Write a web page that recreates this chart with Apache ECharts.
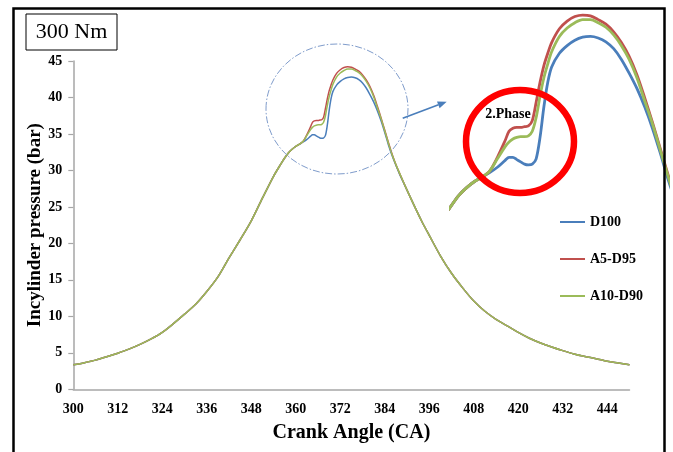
<!DOCTYPE html>
<html>
<head>
<meta charset="utf-8">
<script src="https://cdn.jsdelivr.net/npm/echarts@6/dist/echarts.min.js"></script>
<style>
html,body{margin:0;padding:0;background:#fff;}
#chart{width:673px;height:452px;}
</style>
</head>
<body>
<div id="chart"></div>
<script>
// ---- data ----
const crankAngle = [300,303,306,309,312,315,318,321,324,327,330,333,336,339,342,345,348,351,354,
  356,357,358,359,360,361,362,363,364,
  364.5,365,365.5,366,366.5,367,367.5,368,368.5,369,369.5,370,
  371,372,373,374,375,376,377,378,379,380,381,382,383,384,385,386,387,388,
  390,392,394,396,
  399,402,405,408,411,414,417,420,423,426,429,432,435,438,441,444,447,450];

const d100 = [3.35,3.65,4.0,4.45,4.95,5.5,6.15,6.9,7.8,9.0,10.3,11.65,13.4,15.4,18.0,20.5,23.1,26.2,29.2,
  30.9,31.7,32.4,32.9,33.3,33.6,33.9,34.25,34.7,
  34.9,34.9,34.75,34.6,34.45,34.4,34.45,34.8,36.2,38.2,39.8,40.8,
  41.7,42.2,42.55,42.75,42.8,42.7,42.45,42.0,41.3,40.4,39.4,38.2,36.8,35.2,33.5,32.0,30.7,29.5,
  27.3,25.1,23.0,21.1,
  18.3,15.9,13.9,12.1,10.7,9.6,8.7,7.8,7.0,6.35,5.8,5.3,4.85,4.5,4.2,3.85,3.6,3.35];

const a5d95 = [3.35,3.65,4.0,4.45,4.95,5.5,6.15,6.9,7.8,9.0,10.3,11.65,13.4,15.4,18.0,20.5,23.1,26.2,29.2,
  30.9,31.7,32.4,32.9,33.3,33.6,34.0,34.9,36.0,
  36.6,36.8,36.85,36.85,36.9,36.95,37.3,38.5,39.8,40.9,41.7,42.4,
  43.3,43.8,44.1,44.2,44.15,43.9,43.6,43.1,42.4,41.5,40.3,38.8,37.2,35.5,33.8,32.2,30.8,29.6,
  27.3,25.1,23.0,21.1,
  18.3,15.9,13.9,12.1,10.7,9.6,8.7,7.8,7.0,6.35,5.8,5.3,4.85,4.5,4.2,3.85,3.6,3.35];

const a10d90 = [3.35,3.65,4.0,4.45,4.95,5.5,6.15,6.9,7.8,9.0,10.3,11.65,13.4,15.4,18.0,20.5,23.1,26.2,29.2,
  30.9,31.7,32.4,32.9,33.3,33.6,34.0,34.8,35.6,
  35.9,36.1,36.2,36.25,36.25,36.3,36.6,37.5,38.9,40.1,41.0,41.8,
  42.8,43.35,43.7,43.9,43.9,43.7,43.4,42.9,42.2,41.3,40.1,38.6,37.1,35.4,33.7,32.1,30.8,29.6,
  27.3,25.1,23.0,21.1,
  18.3,15.9,13.9,12.1,10.7,9.6,8.7,7.8,7.0,6.35,5.8,5.3,4.85,4.5,4.2,3.85,3.6,3.35];

const seriesNames = ['D100', 'A5-D95', 'A10-D90'];
const seriesColors = ['#4a7ebb', '#c0504d', '#9bbb59'];
const seriesValues = [d100, a5d95, a10d90];

// ---- chart ----
const FONT = 'Liberation Serif';
const chart = echarts.init(document.getElementById('chart'), null, {renderer: 'canvas'});

function pairs(vals) { return crankAngle.map((x, i) => [x, vals[i]]); }

const series = [];
seriesValues.forEach((vals, i) => {
  series.push({
    name: seriesNames[i], type: 'line', xAxisIndex: 0, yAxisIndex: 0,
    data: pairs(vals), symbol: 'none', smooth: 0.3,
    lineStyle: {color: seriesColors[i], width: 1.5}, itemStyle: {color: seriesColors[i]},
    z: 3
  });
});
seriesValues.forEach((vals, i) => {
  series.push({
    name: seriesNames[i], type: 'line', xAxisIndex: 1, yAxisIndex: 1,
    data: pairs(vals), symbol: 'none', smooth: 0.3, clip: true,
    lineStyle: {color: seriesColors[i], width: 2.8}, itemStyle: {color: seriesColors[i]},
    z: 3
  });
});

const labelStyle = {fontFamily: FONT, fontWeight: 'bold', fontSize: 14, color: '#000'};

chart.setOption({
  backgroundColor: '#fff',
  animation: false,
  grid: [
    {left: 73.3, top: 61, width: 556.2, height: 328.3},
    {left: 450.9, top: 2.8, width: 217, height: 206.5}
  ],
  xAxis: [
    {type: 'value', gridIndex: 0, min: 300, max: 450, interval: 12,
     name: 'Crank Angle (CA)', nameLocation: 'middle', nameGap: 34, nameMoveOverlap: false,
     nameTextStyle: {fontFamily: FONT, fontWeight: 'bold', fontSize: 20, color: '#000'},
     axisLine: {lineStyle: {color: '#a6a6a6', width: 1.5}},
     axisTick: {show: false}, splitLine: {show: false},
     axisLabel: Object.assign({margin: 13, showMaxLabel: false}, labelStyle)},
    {type: 'value', gridIndex: 1, min: 357, max: 385, show: false, splitLine: {show: false}}
  ],
  yAxis: [
    {type: 'value', gridIndex: 0, min: 0, max: 45, interval: 5,
     name: 'Incylinder pressure (bar)', nameLocation: 'middle', nameGap: 29, nameMoveOverlap: false,
     nameTextStyle: {fontFamily: FONT, fontWeight: 'bold', fontSize: 19, color: '#000'},
     axisLine: {show: true, lineStyle: {color: '#a6a6a6', width: 1.5}},
     axisTick: {show: true, length: 5, inside: false, lineStyle: {color: '#a6a6a6', width: 1.2}},
     splitLine: {show: false},
     axisLabel: Object.assign({margin: 11}, labelStyle)},
    {type: 'value', gridIndex: 1, min: 31.5, max: 45, show: false, splitLine: {show: false}}
  ],
  legend: {
    data: seriesNames, orient: 'vertical', left: 555, top: 209,
    icon: 'rect', itemWidth: 25, itemHeight: 2, itemGap: 21,
    textStyle: {fontFamily: FONT, fontWeight: 'bold', fontSize: 14, color: '#000', lineHeight: 16}
  },
  series: series,
  graphic: [
    {type: 'rect', shape: {x: 13.5, y: 8.5, width: 651, height: 470},
     style: {fill: 'none', stroke: '#000', lineWidth: 2.5}, z: 10, silent: true},
    {type: 'rect', shape: {x: 26, y: 14, width: 91, height: 36},
     style: {fill: '#fff', stroke: '#000', lineWidth: 1}, z: 10},
    {type: 'text', x: 71.5, y: 32, z: 11,
     style: {text: '300 Nm', font: '22px "Liberation Serif"', fill: '#000', align: 'center', verticalAlign: 'middle'}},
    {type: 'ellipse', shape: {cx: 337, cy: 109, rx: 71, ry: 65},
     style: {fill: 'none', stroke: '#7f9ccb', lineWidth: 1, lineDash: [7, 2, 1.5, 2]}, z: 5},
    {type: 'line', shape: {x1: 402.7, y1: 118.3, x2: 438.5, y2: 104.8},
     style: {stroke: '#4a7ebb', lineWidth: 1.6}, z: 5},
    {type: 'polygon', shape: {points: [[446.7, 101.7], [439.6, 108.3], [437.0, 101.4]]},
     style: {fill: '#4a7ebb'}, z: 5},
    {type: 'ellipse', shape: {cx: 520, cy: 141.5, rx: 54, ry: 51.5},
     style: {fill: 'none', stroke: '#ff0000', lineWidth: 6.5}, z: 6},
    {type: 'text', x: 508, y: 114, z: 7,
     style: {text: '2.Phase', font: 'bold 14px "Liberation Serif"', fill: '#000', align: 'center', verticalAlign: 'middle'}}
  ]
});
</script>
</body>
</html>
